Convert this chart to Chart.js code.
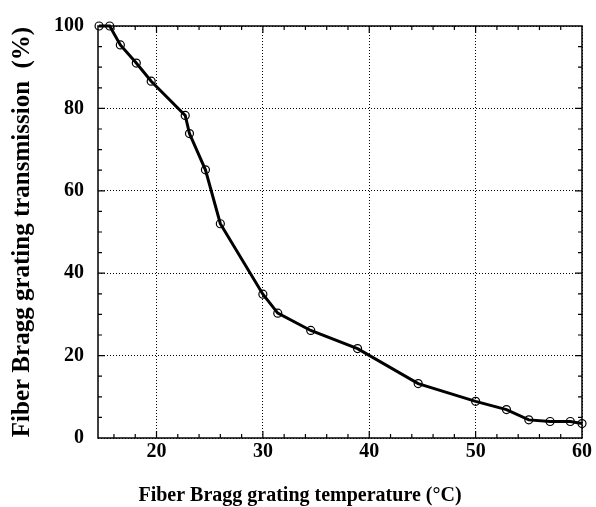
<!DOCTYPE html>
<html>
<head>
<meta charset="utf-8">
<script src="https://cdn.jsdelivr.net/npm/chart.js@4.4.0/dist/chart.umd.min.js"></script>
<style>
  html, body { margin: 0; padding: 0; background: #fff; }
  #wrap { width: 596px; height: 507px; }
</style>
</head>
<body>
<div id="wrap"><canvas id="chart" width="596" height="507"></canvas></div>
<script>
// Data
const suhu = [14.6, 15.6, 16.6, 18.1, 19.5, 22.7, 23.1, 24.6, 26.0, 30.0, 31.4, 34.5, 38.9, 44.6, 50.0, 52.9, 55.0, 57.0, 58.9, 60.0];
const transmisi = [100, 100, 95.4, 91.0, 86.6, 78.3, 73.9, 65.1, 52.0, 34.9, 30.3, 26.1, 21.7, 13.2, 8.9, 6.9, 4.4, 4.0, 4.0, 3.5];
const xTicks = [20, 30, 40, 50, 60];
const yTicks = [0, 20, 40, 60, 80, 100];
const judulX = 'Fiber Bragg grating temperature (°C)';
const judulY = 'Fiber Bragg grating transmission  (%)';

const hurufSerif = "'Liberation Serif', 'Times New Roman', serif";
const fontTeks = { family: hurufSerif, weight: 'bold', size: 20 };

// Kotak, tick kecil ke dalam, dan judul sumbu
const bingkai = {
  id: 'bingkai',
  beforeDatasetsDraw(chart) {
    const { ctx, chartArea: a, scales: { x, y } } = chart;
    ctx.save();
    ctx.strokeStyle = '#000';
    ctx.lineWidth = 1.5;
    ctx.strokeRect(a.left, a.top, a.right - a.left, a.bottom - a.top);
    ctx.lineWidth = 1.2;
    ctx.beginPath();
    for (let v = 16; v < 60; v += 2) {
      const len = v % 10 === 0 ? 7 : 4;
      const px = x.getPixelForValue(v);
      ctx.moveTo(px, a.bottom); ctx.lineTo(px, a.bottom - len);
      ctx.moveTo(px, a.top); ctx.lineTo(px, a.top + len);
    }
    for (let v = 5; v < 100; v += 5) {
      const len = v % 20 === 0 ? 7 : 4;
      const py = y.getPixelForValue(v);
      ctx.moveTo(a.left, py); ctx.lineTo(a.left + len, py);
      ctx.moveTo(a.right, py); ctx.lineTo(a.right - len, py);
    }
    ctx.stroke();
    ctx.restore();
  },
  afterDraw(chart) {
    const ctx = chart.ctx;
    ctx.save();
    ctx.fillStyle = '#000';
    ctx.textAlign = 'center';
    ctx.textBaseline = 'middle';
    ctx.font = 'bold 20px ' + hurufSerif;
    ctx.fillText(judulX, 300, 496);
    ctx.translate(23, 232);
    ctx.rotate(-Math.PI / 2);
    ctx.font = 'bold 25px ' + hurufSerif;
    ctx.fillText(judulY, 0, 0);
    ctx.restore();
  }
};

const ctx = document.getElementById('chart').getContext('2d');
new Chart(ctx, {
  type: 'line',
  data: {
    labels: suhu,
    datasets: [{
      data: suhu.map((s, i) => ({ x: s, y: transmisi[i] })),
      borderColor: '#000',
      borderWidth: 3,
      backgroundColor: 'rgba(0,0,0,0)',
      pointRadius: 4,
      pointBorderWidth: 1.2,
      pointBorderColor: '#000',
      pointBackgroundColor: 'rgba(0,0,0,0)',
      tension: 0,
      clip: false
    }]
  },
  options: {
    responsive: false,
    animation: false,
    devicePixelRatio: 1,
    layout: { padding: { top: 23, right: 14, left: 0, bottom: 0 } },
    plugins: { legend: { display: false }, tooltip: { enabled: false } },
    scales: {
      x: {
        type: 'linear',
        min: 14.5,
        max: 60,
        afterBuildTicks: s => { s.ticks = xTicks.map(v => ({ value: v })); },
        afterFit: s => { s.height = 69; },
        grid: { color: '#000', lineWidth: 1, drawTicks: false },
        border: { display: false, dash: [1, 2] },
        ticks: { color: '#000', font: fontTeks, padding: 2, maxRotation: 0 }
      },
      y: {
        type: 'linear',
        min: 0,
        max: 100,
        afterBuildTicks: s => { s.ticks = yTicks.map(v => ({ value: v })); },
        afterFit: s => { s.width = 98; },
        grid: { color: '#000', lineWidth: 1, drawTicks: false },
        border: { display: false, dash: [1, 2] },
        ticks: { color: '#000', font: fontTeks, padding: 14 }
      }
    }
  },
  plugins: [bingkai]
});
</script>
</body>
</html>
